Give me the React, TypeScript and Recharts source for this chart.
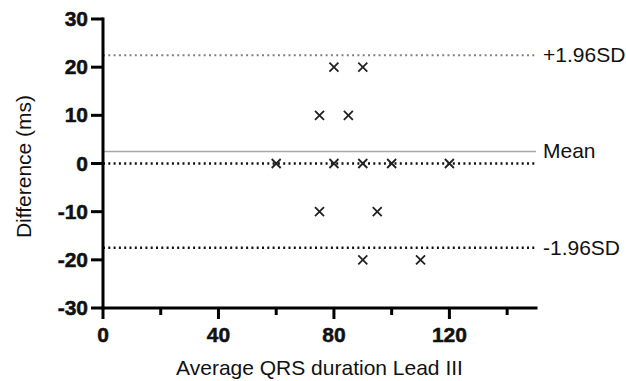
import React from 'react';
import { ScatterChart, Scatter, XAxis, YAxis, ReferenceLine, Label } from 'recharts';

// Data
const avgQrs = [80, 90, 75, 85, 60, 80, 90, 100, 120, 75, 95, 90, 110];
const difference = [20, 20, 10, 10, 0, 0, 0, 0, 0, -10, -10, -20, -20];

const meanDiff = 2.5;
const upperLimit = 22.5;
const lowerLimit = -17.5;
const zeroLine = 0;

const xTicks = [0, 20, 40, 60, 80, 100, 120, 140];
const xLabeled = [0, 40, 80, 120];
const yTicks = [-30, -20, -10, 0, 10, 20, 30];

const points = avgQrs.map((x, i) => ({ x, y: difference[i] }));

const FONT = '"Liberation Sans", Arial, Helvetica, sans-serif';

const XTick = (props: any) => {
  const { x, y, payload } = props;
  const major = xLabeled.includes(payload.value);
  return (
    <g>
      <line x1={x} x2={x} y1={y} y2={y + (major ? 11 : 7)} stroke="#000" strokeWidth={3} />
      {major && (
        <text
          x={x}
          y={y + 34}
          textAnchor="middle"
          fontFamily={FONT}
          fontWeight="bold"
          fontSize={21}
          fill="#111"
          stroke="#111"
          strokeWidth={0.5}
        >
          {payload.value}
        </text>
      )}
    </g>
  );
};

const YTick = (props: any) => {
  const { x, y, payload } = props;
  return (
    <g>
      <line x1={x - 12} x2={x} y1={y} y2={y} stroke="#000" strokeWidth={3} />
      <text
        x={x - 15}
        y={y + 7}
        textAnchor="end"
        fontFamily={FONT}
        fontWeight="bold"
        fontSize={21}
        fill="#111"
        stroke="#111"
        strokeWidth={0.5}
      >
        {payload.value}
      </text>
    </g>
  );
};

const Cross = (props: any) => {
  const { cx, cy } = props;
  const s = 4.5;
  return (
    <path
      d={`M${cx - s},${cy - s}L${cx + s},${cy + s}M${cx - s},${cy + s}L${cx + s},${cy - s}`}
      stroke="#222"
      strokeWidth={1.8}
      fill="none"
    />
  );
};

const sideLabel = (text: string) => (props: any) => {
  const vb = props.viewBox || {};
  return (
    <text
      x={vb.x + vb.width + 7}
      y={vb.y + 7}
      fontFamily={FONT}
      fontSize={21}
      fill="#111"
      textAnchor="start"
    >
      {text}
    </text>
  );
};

export default function App() {
  return (
    <div style={{ position: 'absolute', left: 0, top: 0, width: 626, height: 381, background: '#fff' }}>
      <ScatterChart width={626} height={381} margin={{ top: 19, right: 90, bottom: 0, left: 0 }}>
        <XAxis
          type="number"
          dataKey="x"
          domain={[0, 150]}
          ticks={xTicks}
          interval={0}
          tick={<XTick />}
          tickLine={false}
          tickSize={0}
          tickMargin={0}
          height={73}
          axisLine={{ stroke: '#000', strokeWidth: 3, strokeLinecap: 'square' }}
        >
          <Label
            content={(p: any) => {
              const vb = p.viewBox || {};
              return (
                <text x={vb.x + vb.width / 2} y={vb.y + 67} textAnchor="middle" fontFamily={FONT} fontSize={21} fill="#111">
                  Average QRS duration Lead III
                </text>
              );
            }}
          />
        </XAxis>
        <YAxis
          type="number"
          dataKey="y"
          domain={[-30, 30]}
          ticks={yTicks}
          interval={0}
          tick={<YTick />}
          tickLine={false}
          tickSize={0}
          tickMargin={0}
          width={103}
          axisLine={{ stroke: '#000', strokeWidth: 3, strokeLinecap: 'square' }}
        >
          <Label
            content={(p: any) => {
              const vb = p.viewBox || {};
              const cx = vb.x + 31;
              const cy = vb.y + vb.height / 2 + 3;
              return (
                <text
                  x={cx}
                  y={cy}
                  transform={`rotate(-90 ${cx} ${cy})`}
                  textAnchor="middle"
                  fontFamily={FONT}
                  fontSize={21}
                  fill="#111"
                >
                  Difference (ms)
                </text>
              );
            }}
          />
        </YAxis>
        <ReferenceLine y={upperLimit} stroke="#808080" strokeWidth={2} strokeDasharray="2 3.3" label={sideLabel('+1.96SD')} />
        <ReferenceLine y={meanDiff} stroke="#a8a8a8" strokeWidth={1.5} label={sideLabel('Mean')} />
        <ReferenceLine y={zeroLine} stroke="#111" strokeWidth={2.5} strokeDasharray="2 3.3" />
        <ReferenceLine y={lowerLimit} stroke="#111" strokeWidth={2.5} strokeDasharray="2 3.3" label={sideLabel('-1.96SD')} />
        <Scatter data={points} shape={<Cross />} isAnimationActive={false} />
      </ScatterChart>
    </div>
  );
}
